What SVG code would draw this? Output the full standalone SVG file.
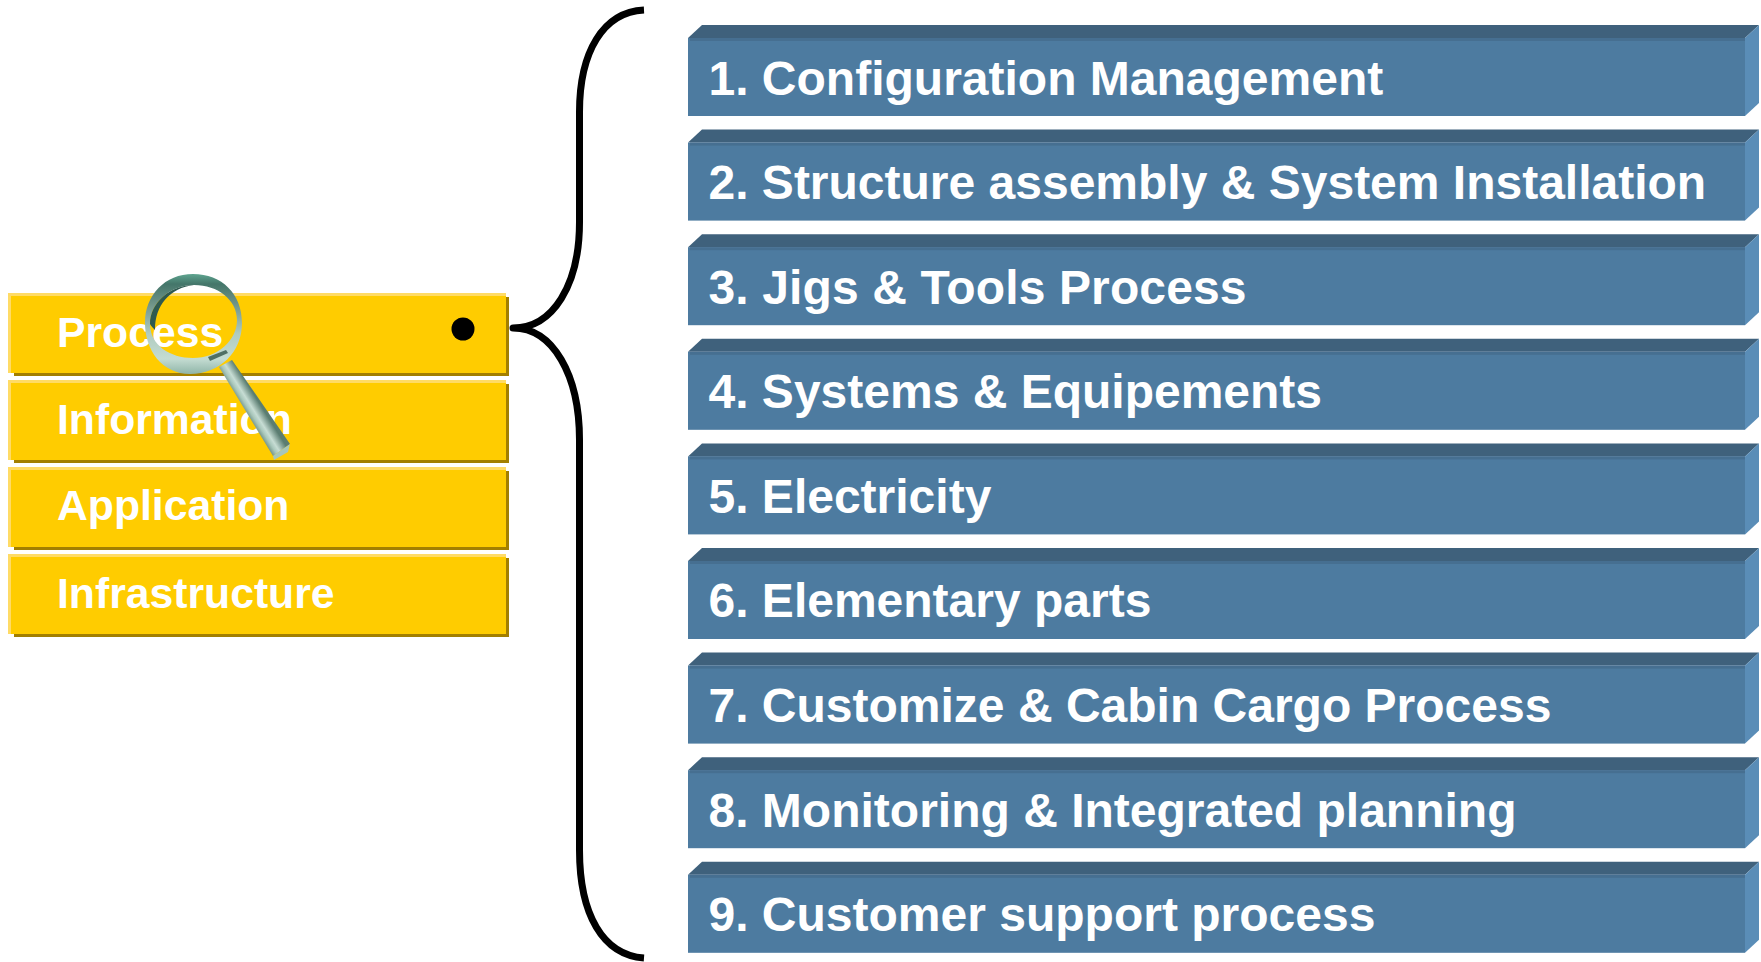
<svg xmlns="http://www.w3.org/2000/svg" width="1761" height="962" viewBox="0 0 1761 962">
<defs>
<style>
.t{font-family:"Liberation Sans",Arial,sans-serif;font-weight:700;fill:#fff}
.bt{font-size:48px}.yt{font-size:42.700px}
.front{fill:#4d7ba0}
.edge{fill:#466f91}
.top{fill:#3f617c}.side{fill:#5a8db7}
.yf{fill:#ffcc00}.yl{fill:#ffdb66}.yd{fill:#a37f00}
</style>
<g id="bar"><polygon class="top" points="688,38 702,25 1759,25 1745,38"/><polygon class="side" points="1745,38 1759,25 1759,103 1745,116"/><rect class="front" x="688" y="38" width="1057" height="78"/><rect class="edge" x="690" y="38" width="1055" height="3"/></g>
<g id="ybar"><rect class="yd" x="14" y="297" width="495" height="79"/><rect class="yl" x="8" y="293" width="498" height="80"/><rect class="yf" x="11" y="296" width="495" height="77"/></g>
<linearGradient id="ring" x1="0" y1="0" x2="0" y2="1"><stop offset="0" stop-color="#5fa590"/><stop offset=".1" stop-color="#44766a"/><stop offset=".3" stop-color="#6f9488"/><stop offset=".6" stop-color="#b0ccc0"/><stop offset=".85" stop-color="#c4dcd2"/><stop offset="1" stop-color="#8fb5a8"/></linearGradient>
<linearGradient id="handle" gradientUnits="userSpaceOnUse" x1="217" y1="371" x2="233" y2="361"><stop offset="0" stop-color="#58786c"/><stop offset=".35" stop-color="#a9c7bb"/><stop offset=".55" stop-color="#c7ddd4"/><stop offset="1" stop-color="#5b7d71"/></linearGradient>
</defs>
<g id="connectors"><path id="brace" d="M644 10C603 12 579.500 52 579.500 112V222C579.500 285 553 328 513 328C553 328 579.500 375 579.500 440V850C579.500 915 603 955 644 958" fill="none" stroke="#000" stroke-width="7" stroke-linejoin="round"/></g>
<g id="n1"><use href="#bar"/><text class="t bt" x="708.500" y="95">1. Configuration Management</text></g>
<g id="n2"><use href="#bar" y="104.600"/><text class="t bt" x="708.500" y="199">2. Structure assembly &amp; System Installation</text></g>
<g id="n3"><use href="#bar" y="209.200"/><text class="t bt" x="708.500" y="304" textLength="538">3. Jigs &amp; Tools Process</text></g>
<g id="n4"><use href="#bar" y="313.800"/><text class="t bt" x="708.500" y="408">4. Systems &amp; Equipements</text></g>
<g id="n5"><use href="#bar" y="418.400"/><text class="t bt" x="708.500" y="513">5. Electricity</text></g>
<g id="n6"><use href="#bar" y="523"/><text class="t bt" x="708.500" y="617">6. Elementary parts</text></g>
<g id="n7"><use href="#bar" y="627.600"/><text class="t bt" x="708.500" y="722">7. Customize &amp; Cabin Cargo Process</text></g>
<g id="n8"><use href="#bar" y="732.200"/><text class="t bt" x="708.500" y="827">8. Monitoring &amp; Integrated planning</text></g>
<g id="n9"><use href="#bar" y="836.800"/><text class="t bt" x="708.500" y="931">9. Customer support process</text></g>
<g id="y1"><use href="#ybar"/><text class="t yt" x="57" y="346.500">Process</text><circle cx="463" cy="329" r="11.500" fill="#000"/></g>
<g id="y2"><use href="#ybar" y="87"/><text class="t yt" x="57" y="433.500">Information</text></g>
<g id="y3"><use href="#ybar" y="174"/><text class="t yt" x="57" y="520">Application</text></g>
<g id="y4"><use href="#ybar" y="261"/><text class="t yt" x="57" y="607.500">Infrastructure</text></g>
<g id="magnifier">
<polygon points="219,367 232,360 290,444 273,456" fill="url(#handle)"/>
<polygon points="273,456 290,444 288,452 274,460" fill="#a7c6ba"/>
<path fill-rule="evenodd" d="M193 274C222 274 242 294 242 323C242 352 220 374 190 374C162 374 145 350 145 323C145 295 165 274 193 274ZM194 285C170 285 150 303 150 324C150 345 170 358 193 358C218 358 237 340 237 320C237 300 218 285 194 285Z" fill="url(#ring)"/>
<path d="M150 324C150 303 170 285 194 285C170 288 155 305 155 330C153 328 151 326 150 324Z" fill="#2f5a50"/>
<path d="M208 357L226 350L228 353L210 361Z" fill="#4f6f64"/>
</g>
</svg>
